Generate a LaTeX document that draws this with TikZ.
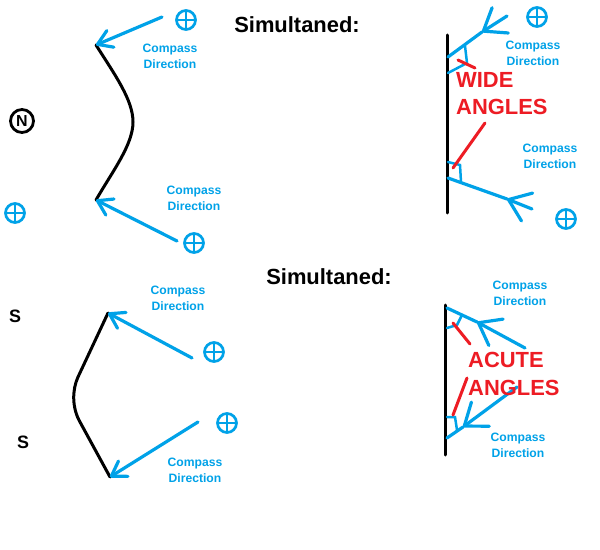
\documentclass[tikz,border=0pt]{standalone}
\usepackage{fontspec}
\setmainfont{Liberation Sans}
\usetikzlibrary{arrows.meta}
\definecolor{paintblue}{RGB}{0,162,232}
\definecolor{paintred}{RGB}{237,28,36}

\begin{document}
\begin{tikzpicture}[x=1bp, y=-1bp,
    wall/.style={line width=3bp, line cap=round},
    ray/.style={paintblue, line width=3.2bp, line cap=round},
    arrowend/.style={-{Straight Barb[length=14bp, width=18bp, round]}},
    midarrow/.style={-{Straight Barb[length=20bp, width=30bp, round]}},
    anglemark/.style={paintblue, line width=2.5bp, line cap=round},
    redmark/.style={paintred, line width=3bp, line cap=round},
    plus/.style={circle, draw=paintblue, line width=2.7bp, minimum size=19bp, inner sep=0pt,
        path picture={\draw[paintblue, line width=2.7bp]
            (path picture bounding box.north) -- (path picture bounding box.south)
            (path picture bounding box.west) -- (path picture bounding box.east);}},
    compass/.style={paintblue, font=\fontsize{12.2}{16}\selectfont\bfseries, align=center, inner sep=0pt},
    title/.style={font=\fontsize{22}{25}\selectfont\bfseries, inner sep=0pt},
    angles/.style={paintred, font=\fontsize{22}{27.5}\selectfont\bfseries, align=left, inner sep=0pt, anchor=west},
    pole/.style={font=\fontsize{18}{18}\selectfont\bfseries, inner sep=0pt}]
    \path[use as bounding box, fill=white] (0,0) rectangle (600,550);

    % titles and poles
    \node[title] (sim1) at (297,25) {Simultaned:};
    \node[title] (sim2) at (329,277) {Simultaned:};
    \node[circle, draw, line width=2.8bp, minimum size=23bp, inner sep=0pt,
          font=\fontsize{16}{16}\selectfont\bfseries] (north) at (22,121) {N};
    \node[pole] (s1) at (15,316) {S};
    \node[pole] (s2) at (23,442) {S};

    % compass symbols
    \node[plus] (p1) at (186,20) {};
    \node[plus] (p2) at (15,213) {};
    \node[plus] (p3) at (194,243) {};
    \node[plus] (p4) at (537,17) {};
    \node[plus] (p5) at (566,219) {};
    \node[plus] (p6) at (214,352) {};
    \node[plus] (p7) at (227,423) {};

    % compass labels
    \node[compass] (c1) at (170,56) {Compass\\Direction};
    \node[compass] (c2) at (194,198) {Compass\\Direction};
    \node[compass] (c3) at (533,53) {Compass\\Direction};
    \node[compass] (c4) at (550,156) {Compass\\Direction};
    \node[compass] (c5) at (178,298) {Compass\\Direction};
    \node[compass] (c6) at (195,470) {Compass\\Direction};
    \node[compass] (c7) at (520,293) {Compass\\Direction};
    \node[compass] (c8) at (518,445) {Compass\\Direction};

    % top left
    \coordinate (tl1) at (96,45);
    \coordinate (tl2) at (96,200);
    \coordinate (a1) at (162,17);
    \coordinate (a2) at (177,241);
    \draw[wall] (tl1) .. controls (115,75) and (133,100) .. (133,122)
        .. controls (133,145) and (112,172) .. (tl2);
    \draw[ray, arrowend] (a1) -- (tl1);
    \draw[ray, arrowend] (a2) -- (tl2);

    % bottom left
    \coordinate (bl1) at (108,313);
    \coordinate (bl2) at (110,477);
    \coordinate (a3) at (192,358);
    \coordinate (a4) at (198,422);
    \draw[wall] (bl1) -- (78,377) .. controls (72,390) and (72,408) .. (80,422) -- (bl2);
    \draw[ray, arrowend] (a3) -- (bl1);
    \draw[ray, arrowend] (a4) -- (bl2);

    % top right
    \coordinate (w1t) at (447,35);
    \coordinate (w1b) at (447,213);
    \draw[wall] (w1t) -- (w1b);
    \coordinate (r1o) at (507,16);
    \coordinate (r1m) at (482,32);
    \coordinate (r1w) at (448,57);
    \draw[ray, midarrow] (r1o) -- (r1m);
    \draw[ray] (r1m) -- (r1w);
    \draw[anglemark] (465,46) -- (467,63) -- (448,73);
    \draw[redmark] (458,60) -- (475,68);
    \coordinate (r2o) at (532,209);
    \coordinate (r2m) at (507,199);
    \coordinate (r2w) at (448,178);
    \draw[ray, midarrow] (r2o) -- (r2m);
    \draw[ray] (r2m) -- (r2w);
    \draw[anglemark] (448,162) -- (460,165) -- (461,182);
    \draw[redmark] (485,123) -- (453,168);
    \node[angles] (wide) at (456,93.5) {WIDE\\ANGLES};

    % bottom right
    \coordinate (w2t) at (445,305);
    \coordinate (w2b) at (445,455);
    \draw[wall] (w2t) -- (w2b);
    \coordinate (r3o) at (525,348);
    \coordinate (r3m) at (477,322);
    \coordinate (r3w) at (447,308);
    \draw[ray, midarrow] (r3o) -- (r3m);
    \draw[ray] (r3m) -- (r3w);
    \draw[anglemark] (462,315) -- (457,325) -- (447,328);
    \draw[redmark] (453,323) -- (470,344);
    \coordinate (r4o) at (517,387);
    \coordinate (r4m) at (463,427);
    \coordinate (r4w) at (447,438);
    \draw[ray, midarrow] (r4o) -- (r4m);
    \draw[ray] (r4m) -- (r4w);
    \draw[anglemark] (447,417) -- (455,417) -- (457,430);
    \draw[redmark] (467,378) -- (453,415);
    \node[angles] (acute) at (468,374) {ACUTE\\ANGLES};
\end{tikzpicture}
\end{document}
